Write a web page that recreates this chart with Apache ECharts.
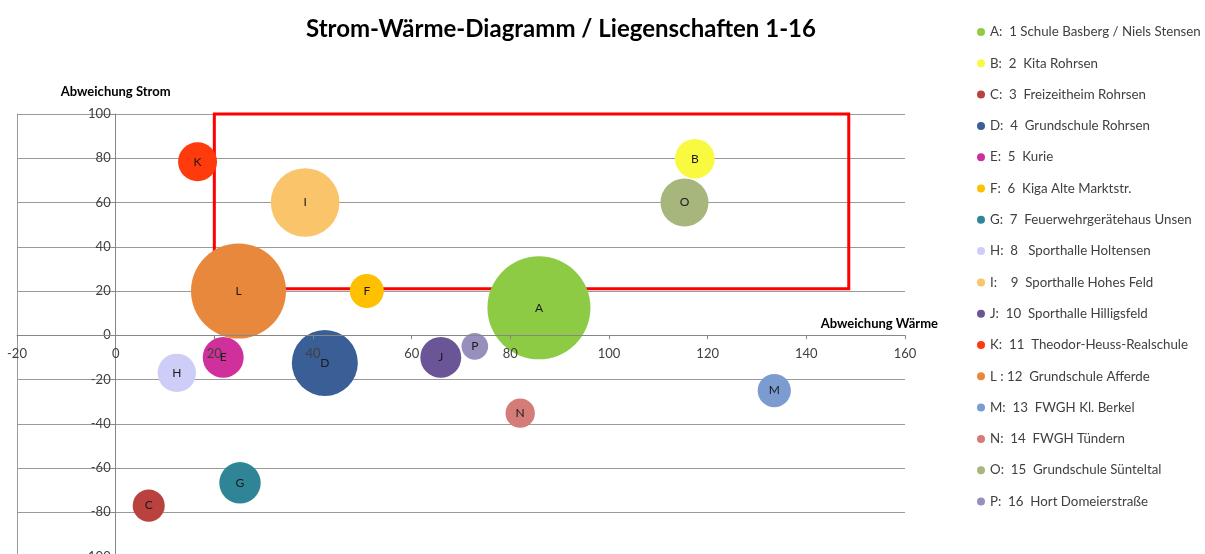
<!DOCTYPE html>
<html>
<head>
<meta charset="utf-8">
<title>Strom-Wärme-Diagramm</title>
<script src="https://cdn.jsdelivr.net/npm/echarts@6/dist/echarts.min.js"></script>
<style>
  html, body { margin: 0; padding: 0; background: #fff; }
  #chart { width: 1205px; height: 554px; }
</style>
</head>
<body>
<div id="chart"></div>
<script>
// Liegenschaften 1-16
const letters = ["A", "B", "C", "D", "E", "F", "G", "H", "I", "J", "K", "L", "M", "N", "O", "P"];
const names = [
  "A:  1 Schule Basberg / Niels Stensen",
  "B:  2  Kita Rohrsen",
  "C:  3  Freizeitheim Rohrsen",
  "D:  4  Grundschule Rohrsen",
  "E:  5  Kurie",
  "F:  6  Kiga Alte Marktstr.",
  "G:  7  Feuerwehrgerätehaus Unsen",
  "H:  8   Sporthalle Holtensen",
  "I:    9  Sporthalle Hohes Feld",
  "J:  10  Sporthalle Hilligsfeld",
  "K:  11  Theodor-Heuss-Realschule",
  "L : 12  Grundschule Afferde",
  "M:  13  FWGH Kl. Berkel",
  "N:  14  FWGH Tündern",
  "O:  15  Grundschule Sünteltal",
  "P:  16  Hort Domeierstraße"
];
// Abweichung Wärme (x)
const waerme = [85.8, 117.4, 6.7, 42.4, 21.8, 50.9, 25.2, 12.4, 38.4, 65.9, 16.6, 24.9, 133.5, 82.0, 115.3, 72.8];
// Abweichung Strom (y)
const strom = [12.4, 79.8, -77, -12.5, -10, 20, -66.7, -17, 60, -10, 78.4, 20, -25, -35.2, 60, -5];
// Blasengröße
const groesse = [100, 14.8, 9.7, 41.1, 15.8, 10.9, 16.2, 13.9, 44.4, 15.8, 14.3, 85.1, 10.4, 8.1, 21.7, 6.7];
const colors = ["#8dcb45", "#f9f940", "#b9423f", "#3a5e96", "#d0309b", "#ffc000", "#2f8596", "#cdcdf7",
                "#fac46a", "#6a5596", "#ff3a0c", "#e8883c", "#7b9bd1", "#d47c78", "#a7b67c", "#988fbd"];
// rot markierter Bereich
const boxX = [20, 148.6];
const boxY = [21, 100];

const xMin = -20, xMax = 160, yMin = -100, yMax = 100;
const FONT = "Lato";

// Plotfläche (px)
const gridLeft = 17, gridRight = 300, gridTop = 114, gridBottom = -2.5;
const plotW = 1205 - gridLeft - gridRight;
const plotH = 554 - gridTop - gridBottom;
// Achsen durch den Nullpunkt schieben
const yAxisShift = -plotW * (0 - xMin) / (xMax - xMin);
const xAxisShift = -plotH * (0 - yMin) / (yMax - yMin);

let series = names.map((name, i) => ({
  name: name,
  type: "scatter",
  data: [[waerme[i], strom[i], groesse[i]]],
  symbolSize: d => 103 * Math.sqrt(d[2] / 100),
  itemStyle: { color: colors[i], opacity: 1 },
  label: {
    show: true,
    position: "inside",
    formatter: letters[i],
    color: "#1a1a1a",
    fontSize: 12,
    fontFamily: FONT
  },
  z: 2
}));

// roter Rahmen
series.push({
  name: "box",
  type: "scatter",
  data: [],
  z: 5,
  markArea: {
    silent: true,
    itemStyle: { color: "rgba(0,0,0,0)", borderColor: "#ff0000", borderWidth: 3 },
    data: [[{ coord: [boxX[0], boxY[1]] }, { coord: [boxX[1], boxY[0]] }]]
  }
});

const chart = echarts.init(document.getElementById("chart"));
chart.setOption({
  animation: false,
  color: colors,
  title: {
    text: "Strom-Wärme-Diagramm / Liegenschaften 1-16",
    left: 301,
    top: 12,
    textStyle: { fontFamily: FONT, fontWeight: "bold", fontSize: 24, color: "#000" }
  },
  legend: {
    data: names,
    orient: "vertical",
    left: 977,
    top: 25,
    padding: 0,
    itemWidth: 8,
    itemHeight: 8,
    itemGap: 17.3,
    icon: "circle",
    textStyle: { fontFamily: FONT, fontSize: 13.3, color: "#404040", lineHeight: 14 }
  },
  grid: { left: gridLeft, right: gridRight, top: gridTop, bottom: gridBottom, outerBoundsMode: "none" },
  xAxis: {
    type: "value",
    min: xMin,
    max: xMax,
    interval: 20,
    z: 3,
    position: "bottom",
    offset: xAxisShift,
    name: "Abweichung Wärme",
    nameLocation: "end",
    nameGap: 33,
    nameTextStyle: {
      fontFamily: FONT, fontWeight: "bold", fontSize: 13, color: "#000",
      align: "right", verticalAlign: "bottom", padding: [0, 0, 5, 0]
    },
    axisLine: { onZero: false, lineStyle: { color: "#868686" } },
    axisTick: { show: true, length: 4, lineStyle: { color: "#868686" } },
    axisLabel: { margin: 12, fontFamily: FONT, fontSize: 13, color: "#404040" },
    splitLine: { show: false }
  },
  yAxis: [
    {
      type: "value",
      min: yMin,
      max: yMax,
      interval: 20,
      position: "left",
      offset: yAxisShift,
      name: "Abweichung Strom",
      nameLocation: "end",
      nameGap: 16,
      nameTextStyle: { fontFamily: FONT, fontWeight: "bold", fontSize: 13, color: "#000" },
      axisLine: { show: true, onZero: false, lineStyle: { color: "#868686" } },
      axisTick: { show: true, length: 4, lineStyle: { color: "#868686" } },
      axisLabel: { margin: 5, fontFamily: FONT, fontSize: 13, color: "#404040" },
      splitLine: { show: true, lineStyle: { color: "#9a9a9a" } }
    },
    {
      // linker Rand der Plotfläche
      type: "value",
      min: yMin,
      max: yMax,
      position: "left",
      axisLine: { show: true, onZero: false, lineStyle: { color: "#9a9a9a" } },
      axisTick: { show: false },
      axisLabel: { show: false },
      splitLine: { show: false }
    }
  ],
  series: series
});
</script>
</body>
</html>
